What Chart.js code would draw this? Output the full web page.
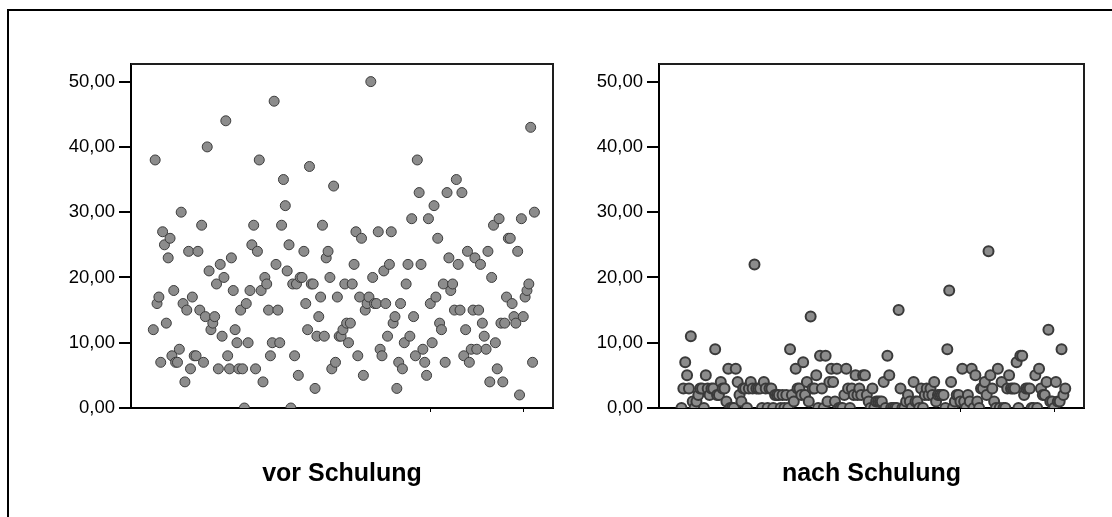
<!DOCTYPE html>
<html lang="de">
<head>
<meta charset="utf-8">
<title>vor / nach Schulung</title>
<script src="https://cdn.jsdelivr.net/npm/chart.js@4.4.1/dist/chart.umd.min.js"></script>
<style>
  html, body { margin: 0; padding: 0; background: #fff; }
  body { width: 1112px; height: 517px; position: relative; overflow: hidden; }
  #rahmen { position: absolute; left: 7px; top: 9px; width: 1200px; height: 600px; border: 2px solid #000; }
  canvas { position: absolute; top: 0; }
  #links { left: 0; }
  #rechts { left: 528px; }
</style>
</head>
<body>
<div id="rahmen"></div>
<canvas id="links" width="570" height="517"></canvas>
<canvas id="rechts" width="584" height="517"></canvas>
<script>
// Werte je Fall (Fall 1..206), vor und nach der Schulung
const vorSchulung = [
  12, 38, 16, 17, 7, 27, 25, 13, 23, 26,
  8, 18, 7, 7, 9, 30, 16, 4, 15, 24,
  6, 17, 8, 8, 24, 15, 28, 7, 14, 40,
  21, 12, 13, 14, 19, 6, 22, 11, 20, 44,
  8, 6, 23, 18, 12, 10, 6, 15, 6, 0,
  16, 10, 18, 25, 28, 6, 24, 38, 18, 4,
  20, 19, 15, 8, 10, 47, 22, 15, 10, 28,
  35, 31, 21, 25, 0, 19, 8, 19, 5, 20,
  20, 24, 16, 12, 37, 19, 19, 3, 11, 14,
  17, 28, 11, 23, 24, 20, 6, 34, 7, 17,
  11, 11, 12, 19, 13, 10, 13, 19, 22, 27,
  8, 17, 26, 5, 15, 16, 17, 50, 20, 16,
  16, 27, 9, 8, 21, 16, 11, 22, 27, 13,
  14, 3, 7, 16, 6, 10, 19, 22, 11, 29,
  14, 8, 38, 33, 22, 9, 7, 5, 29, 16,
  10, 31, 17, 26, 13, 12, 19, 7, 33, 23,
  18, 19, 15, 35, 22, 15, 33, 8, 12, 24,
  7, 9, 15, 23, 9, 15, 22, 13, 11, 9,
  24, 4, 20, 28, 10, 6, 29, 13, 4, 13,
  17, 26, 26, 16, 14, 13, 24, 2, 29, 14,
  17, 18, 19, 43, 7, 30
];

const nachSchulung = [
  0, 3, 7, 5, 3, 11, 1, 0, 1, 2,
  3, 3, 0, 5, 3, 2, 3, 3, 9, 2,
  2, 4, 3, 3, 1, 6, 0, 0, 0, 6,
  4, 2, 1, 3, 3, 0, 3, 4, 3, 22,
  3, 3, 3, 0, 4, 3, 0, 3, 3, 0,
  2, 2, 2, 0, 2, 0, 2, 0, 9, 2,
  1, 6, 3, 3, 2, 7, 2, 4, 1, 14,
  3, 3, 5, 0, 8, 3, 0, 8, 1, 4,
  6, 4, 1, 6, 0, 0, 0, 2, 6, 3,
  0, 3, 2, 5, 2, 3, 2, 5, 5, 2,
  1, 0, 3, 0, 1, 1, 1, 1, 4, 0,
  8, 5, 0, 0, 0, 0, 15, 3, 0, 0,
  1, 2, 1, 0, 4, 1, 1, 0, 3, 0,
  2, 3, 2, 3, 2, 4, 1, 2, 2, 2,
  2, 0, 9, 18, 4, 0, 1, 2, 2, 1,
  6, 1, 0, 2, 1, 6, 0, 5, 1, 0,
  3, 3, 4, 2, 24, 5, 3, 1, 0, 6,
  0, 4, 0, 0, 3, 5, 3, 3, 3, 7,
  0, 8, 8, 2, 3, 3, 3, 0, 0, 5,
  0, 6, 3, 2, 2, 4, 12, 1, 1, 0,
  4, 1, 1, 9, 2, 3
];

const titel = ["vor Schulung", "nach Schulung"];
const yTicks = [0, 10, 20, 30, 40, 50];
const xTicks = [150, 200];

Chart.defaults.font.family = '"Liberation Sans", Arial, sans-serif';
Chart.defaults.color = "#000";

// Rahmen oben und rechts um den Plotbereich
const plotRahmen = {
  id: "plotRahmen",
  afterDraw(chart) {
    const { ctx, chartArea: a } = chart;
    ctx.save();
    ctx.strokeStyle = "#1e1e1e";
    ctx.lineWidth = 2;
    ctx.beginPath();
    ctx.moveTo(a.left, a.top);
    ctx.lineTo(a.right, a.top);
    ctx.lineTo(a.right, a.bottom);
    ctx.stroke();
    ctx.restore();
  },
};

function optionen(text, rechterRand) {
  return {
    responsive: false,
    animation: false,
    events: [],
    layout: { padding: { top: 64, right: rechterRand, left: 0, bottom: 0 } },
    plugins: { legend: { display: false }, tooltip: { enabled: false } },
    scales: {
      x: {
        type: "linear",
        min: -11,
        max: 216,
        afterBuildTicks: (s) => { s.ticks = xTicks.map((v) => ({ value: v })); },
        afterFit: (s) => { s.height = 109; },
        ticks: { display: false },
        grid: { drawOnChartArea: false, tickLength: 4, color: "#000", lineWidth: 1 },
        border: { color: "#000", width: 2 },
        title: {
          display: true,
          text: text,
          color: "#000",
          font: { size: 25, weight: "bold" },
          padding: { top: 0, bottom: 28 },
        },
      },
      y: {
        min: 0,
        max: 52.7,
        afterBuildTicks: (s) => { s.ticks = yTicks.map((v) => ({ value: v })); },
        afterFit: (s) => { s.width = 131; },
        ticks: {
          color: "#000",
          font: { size: 18.5 },
          padding: 4,
          callback: (v) => v.toFixed(2).replace(".", ","),
        },
        grid: { drawOnChartArea: false, tickLength: 12, color: "#000", lineWidth: 2 },
        border: { color: "#000", width: 2 },
      },
    },
  };
}

function punkte(werte) {
  return werte.map((v, i) => ({ x: i + 1, y: v }));
}

new Chart(document.getElementById("links"), {
  type: "scatter",
  data: {
    datasets: [{
      data: punkte(vorSchulung),
      pointRadius: 5,
      pointBackgroundColor: "#8c8c8c",
      pointBorderColor: "#3c3c3c",
      pointBorderWidth: 1,
      clip: 0,
    }],
  },
  options: optionen(titel[0], 17),
  plugins: [plotRahmen],
});

new Chart(document.getElementById("rechts"), {
  type: "scatter",
  data: {
    datasets: [{
      data: punkte(nachSchulung),
      pointRadius: 5,
      pointBackgroundColor: "#8c8c8c",
      pointBorderColor: "#3a3a3a",
      pointBorderWidth: 2,
      clip: 0,
    }],
  },
  options: optionen(titel[1], 28),
  plugins: [plotRahmen],
});
</script>
</body>
</html>
